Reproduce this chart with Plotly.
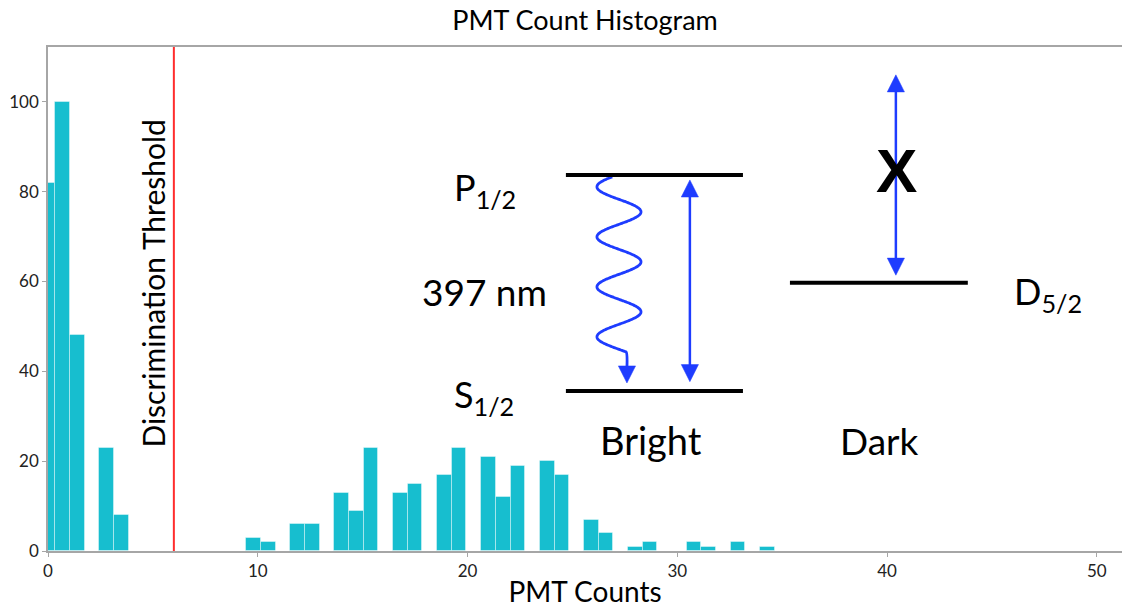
import numpy as np
import plotly.graph_objects as go

# Histogram of PMT counts (bin width 0.7, bins centred on multiples of 0.7)
bin_width = 0.7
bin_centers = [round(0.7 * k, 2) for k in range(50)]
frequencies = [82, 100, 48, 0, 23, 8, 0, 0, 0, 0,
               0, 0, 0, 0, 3, 2, 0, 6, 6, 0,
               13, 9, 23, 0, 13, 15, 0, 17, 23, 0,
               21, 12, 19, 0, 20, 17, 0, 7, 4, 0,
               1, 2, 0, 0, 2, 1, 0, 2, 0, 1]

threshold = 6
x_ticks = [0, 10, 20, 30, 40, 50]
y_ticks = [0, 20, 40, 60, 80, 100]

# Energy-level diagram (data units)
level_p = 83.7
level_s = 35.6
level_d = 59.7
bright_x = (24.69, 33.13)
dark_x = (35.37, 43.85)

FONT = "Lato"
BLUE = "#1e3cff"
TEAL = "#17becf"

# arrowhead size in data units (half width along x, length along y)
HEAD_HALF_W = 0.41
HEAD_LEN = 3.8

fig = go.Figure()

fig.add_trace(go.Bar(
    x=bin_centers, y=frequencies, width=bin_width,
    marker=dict(color=TEAL, line=dict(color="rgba(255,255,255,0.4)", width=1)),
    hoverinfo="x+y", showlegend=False,
))

# photon emission squiggle from P1/2 down to S1/2
wave_y = np.linspace(83.3, 44.3, 300)
wave_phase = np.pi / 2 + 2 * np.pi * (75.5 - wave_y) / 11.13
wave_x = list(27.22 + 1.05 * np.sin(wave_phase)) + [27.6]
wave_y = list(wave_y) + [37.4 + HEAD_LEN - 0.3]
fig.add_trace(go.Scatter(
    x=wave_x, y=wave_y, mode="lines",
    line=dict(color=BLUE, width=2.8, shape="spline"),
    hoverinfo="skip", showlegend=False,
))

shapes = [
    dict(type="line", x0=threshold, x1=threshold, y0=0, y1=1, xref="x", yref="paper",
         line=dict(color="#ff2d2d", width=2)),
    dict(type="line", x0=bright_x[0], x1=bright_x[1], y0=level_p, y1=level_p,
         line=dict(color="black", width=4)),
    dict(type="line", x0=bright_x[0], x1=bright_x[1], y0=level_s, y1=level_s,
         line=dict(color="black", width=4)),
    dict(type="line", x0=dark_x[0], x1=dark_x[1], y0=level_d, y1=level_d,
         line=dict(color="black", width=4)),
]


def head(x, y_tip, direction):
    """Filled triangular arrowhead; direction +1 points up, -1 points down."""
    yb = y_tip - direction * HEAD_LEN
    return dict(type="path", xref="x", yref="y",
                path=f"M {x - HEAD_HALF_W},{yb} L {x + HEAD_HALF_W},{yb} L {x},{y_tip} Z",
                fillcolor=BLUE, line=dict(color=BLUE, width=0.5))


def double_arrow(x, y_top, y_bottom):
    return [
        dict(type="line", xref="x", yref="y", x0=x, x1=x,
             y0=y_top - HEAD_LEN + 0.5, y1=y_bottom + HEAD_LEN - 0.5,
             line=dict(color=BLUE, width=2.5)),
        head(x, y_top, +1),
        head(x, y_bottom, -1),
    ]


shapes += double_arrow(30.6, 82.6, 37.7)
shapes += double_arrow(40.42, 106.0, 61.4)
shapes.append(head(27.6, 37.4, -1))


def label(text, x, y, size=36, bold=False, angle=0):
    return dict(x=x, y=y, xref="x", yref="y", text=f"<b>{text}</b>" if bold else text,
                showarrow=False, textangle=angle, xanchor="center", yanchor="middle",
                font=dict(family="Liberation Sans" if bold else FONT, size=size, color="black"))


annotations = [
    label("P<sub>1/2</sub>", 20.83, 80.4),
    label("S<sub>1/2</sub>", 20.8, 34.5),
    label("397 nm", 20.8, 57.8, size=37),
    label("Bright", 28.75, 24.7, size=38),
    label("Dark", 39.65, 24.7, size=37),
    label("D<sub>5/2</sub>", 47.65, 57.3),
    label("X", 40.47, 84.8, size=62, bold=True),
    label("Discrimination Threshold", 5.0, 59.5, size=30, angle=-90),
]

axis_common = dict(
    showline=True, linecolor="#a6a6a6", linewidth=1.5,
    ticks="outside", ticklen=4, tickcolor="#a6a6a6",
    showgrid=False, zeroline=False,
    tickfont=dict(family=FONT, size=17, color="#222"),
)

fig.update_layout(
    width=1122, height=608, autosize=False,
    margin=dict(l=48, r=0, t=47, b=57),
    plot_bgcolor="white", paper_bgcolor="white",
    bargap=0,
    title=dict(text="PMT Count Histogram", x=0.5, xref="paper", y=1 - 21 / 608,
               yref="container", xanchor="center", yanchor="middle",
               font=dict(family=FONT, size=27, color="black")),
    xaxis=dict(range=[0, 51.2], tickvals=x_ticks, mirror=True,
               title=dict(text="PMT Counts", standoff=6,
                          font=dict(family=FONT, size=28, color="black")),
               **axis_common),
    yaxis=dict(range=[0, 112.2], tickvals=y_ticks, **axis_common),
    shapes=shapes,
    annotations=annotations,
)

fig.write_html("out.html")
